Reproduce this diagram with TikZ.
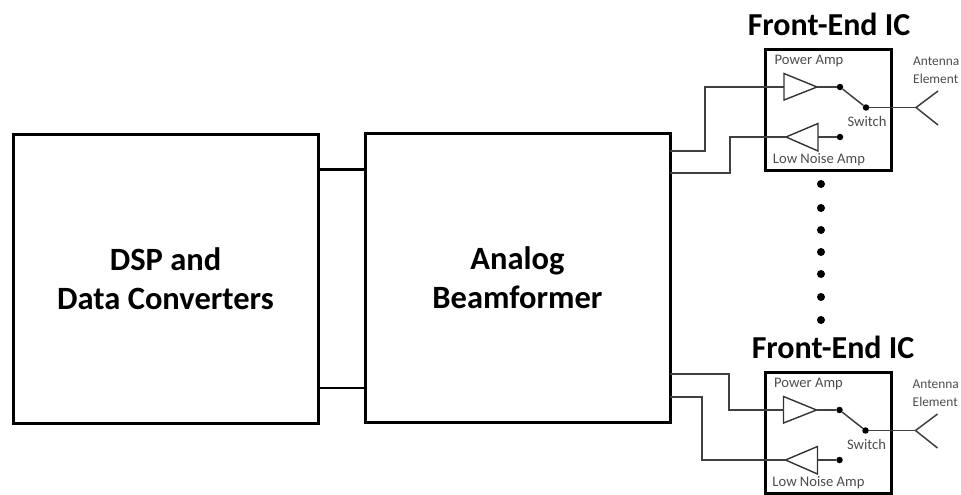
\documentclass[tikz,border=0pt]{standalone}
\usepackage{fontspec}
\setmainfont{Carlito}
\usetikzlibrary{calc}
\tikzset{
  x=1pt,y=-1pt,
  bigbox/.style={draw=black,line width=3pt,outer sep=0pt,anchor=north west,inner sep=0pt,align=center,font=\bfseries\fontsize{32.5}{39.5}\selectfont},
  febox/.style={draw=black,line width=3pt,outer sep=0pt,anchor=north west,inner sep=0pt},
  wire/.style={draw=black!75,line width=1.5pt,line join=miter},
  link/.style={draw=black,line width=2.8pt},
  femp/.style={draw=black!80,line width=1.4pt,line join=miter},
  fetitle/.style={font=\bfseries\fontsize{32}{36}\selectfont,inner sep=0pt},
  small/.style={font=\fontsize{14.6}{16}\selectfont,text=black!70,inner sep=0pt},
  anttext/.style={font=\fontsize{13.4}{16}\selectfont,text=black!70,inner sep=0pt,anchor=west},
  pin/.style={circle,fill=black,inner sep=0pt,minimum size=6.5pt},
  bigdot/.style={circle,fill=black,inner sep=0pt,minimum size=8pt},
}
\newcommand{\FrontEndIC}[4]{% prefix, x-shift, y-shift, title centre x
  \begin{scope}[shift={(#2,#3)}]
    \node[fetitle] (#1t) at (#4,24) {Front-End IC};
    \node[febox,minimum width=126pt,minimum height=121pt] (#1b) at (765.5,49.5) {};
    \node[small] (#1pl) at (809,61) {Power Amp};
    \node[small] (#1ll) at (819,160) {Low Noise Amp};
    \node[small] (#1sl) at (867,121) {Switch};
    \node[anttext] (#1al) at (913,61) {Antenna};
    \node[anttext] (#1el) at (913,79) {Element};
    \coordinate (#1pw) at (784,87);
    \coordinate (#1pt) at (817,87);
    \coordinate (#1lt) at (786,137);
    \coordinate (#1lb) at (818,137);
    \node[pin] (#1s1) at (840,87) {};
    \node[pin] (#1s2) at (866,107.5) {};
    \node[pin] (#1s3) at (840,137) {};
    \coordinate (#1ac) at (916,107.5);
    \coordinate (#1a1) at (938,91);
    \coordinate (#1a2) at (938,125);
    \draw[femp] (784,73.5) -- (#1pt) -- (784,100) -- cycle;
    \draw[femp] (818,123.5) -- (#1lt) -- (818,151) -- cycle;
    \draw[wire] (#1pt) -- (#1s1);
    \draw[wire] (#1s1) -- (#1s2);
    \draw[wire] (#1s2) -- (#1ac);
    \draw[wire] (#1a1) -- (#1ac) -- (#1a2);
    \draw[wire] (#1lb) -- (#1s3);
  \end{scope}
}
\begin{document}
\begin{tikzpicture}
\useasboundingbox (0,0) rectangle (961,495);
\node[bigbox,minimum width=305pt,minimum height=289pt] (dsp) at (13,134) {DSP and\\Data Converters};
\node[bigbox,minimum width=305pt,minimum height=289pt] (abf) at (365,133) {Analog\\Beamformer};
\coordinate (d1) at (dsp.east |- 0,169.5);
\coordinate (d2) at (dsp.east |- 0,388);
\draw[link] (d1) -- (abf.west |- d1);
\draw[link] (d2) -- (abf.west |- d2);
\FrontEndIC{u}{0}{0}{829}
\FrontEndIC{v}{-0.5}{323}{833.5}
% wires from the beamformer to the ICs
\draw[wire] (abf.east |- 0,151) -| (705,87) -- (upw);
\draw[wire] (abf.east |- 0,173) -| (730,137) -- (ult);
\draw[wire] (abf.east |- 0,374) -| (729,410) -- (vpw);
\draw[wire] (abf.east |- 0,397) -| (702,460) -- (vlt);
% dots
\foreach \y/\n in {184/a,208/b,230/c,252/d,274/e,297/f,320/g}
  \node[bigdot] (dot\n) at (821,\y) {};
\end{tikzpicture}
\end{document}
